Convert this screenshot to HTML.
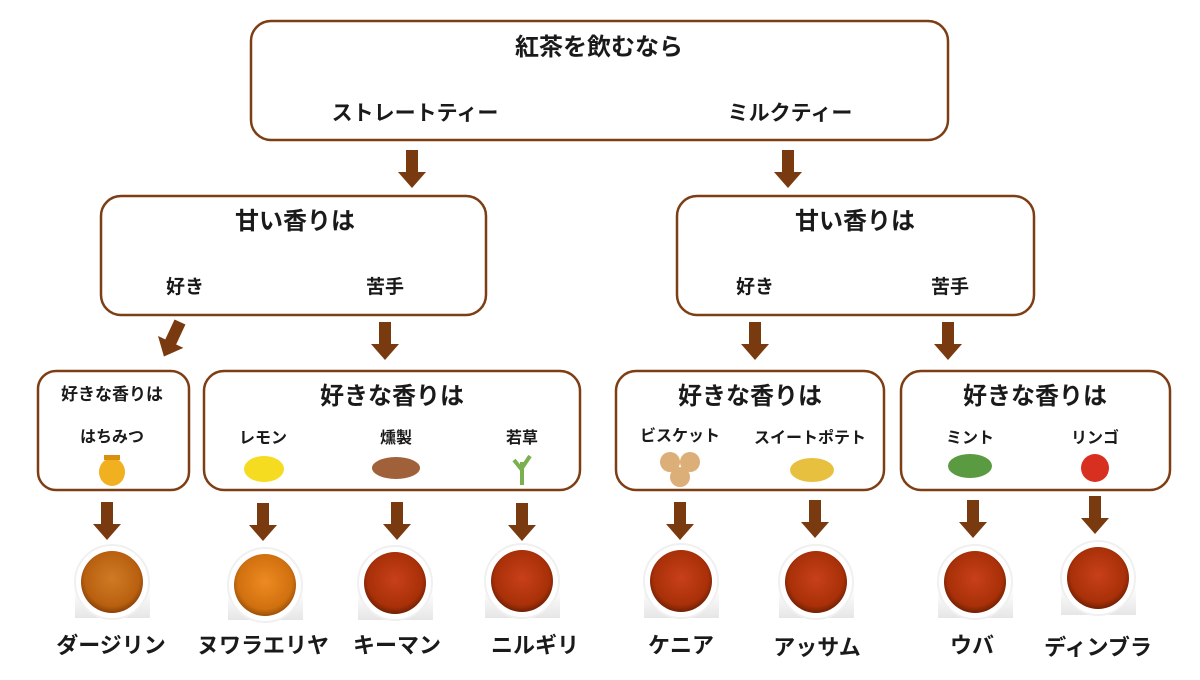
<!DOCTYPE html>
<html><head><meta charset="utf-8"><style>
html,body{margin:0;padding:0;background:#fff;}
svg text{font-family:"Liberation Sans","Noto Sans CJK JP",sans-serif;font-weight:bold;fill:#1a1a1a;text-anchor:middle;}
</style></head><body>
<svg width="1200" height="675" viewBox="0 0 1200 675" xmlns="http://www.w3.org/2000/svg">
<defs>
<g id="ar"><rect x="-6" y="0" width="12" height="24" fill="#7a3a10"/><polygon points="-14,22 14,22 0,38" fill="#7a3a10"/></g>
<radialGradient id="t1" cx="50%" cy="45%" r="55%"><stop offset="0" stop-color="#d07a25"/><stop offset="0.8" stop-color="#b8600f"/><stop offset="1" stop-color="#8a4008"/></radialGradient>
<radialGradient id="t2" cx="50%" cy="45%" r="55%"><stop offset="0" stop-color="#c8401a"/><stop offset="0.8" stop-color="#a83008"/><stop offset="1" stop-color="#702005"/></radialGradient>
<radialGradient id="t3" cx="50%" cy="45%" r="55%"><stop offset="0" stop-color="#ee8a20"/><stop offset="0.8" stop-color="#d0700f"/><stop offset="1" stop-color="#9a5008"/></radialGradient>
<linearGradient id="sh" x1="0" y1="0" x2="0" y2="1"><stop offset="0.5" stop-color="#fff"/><stop offset="1" stop-color="#e6e6e6"/></linearGradient>
</defs>
<g fill="#fff" stroke="#7e3e14" stroke-width="2.5">
<rect x="251" y="21" width="697" height="119" rx="20"/>
<rect x="101" y="196" width="385" height="119" rx="20"/>
<rect x="677" y="196" width="357" height="119" rx="20"/>
<rect x="38" y="371" width="151" height="119" rx="18"/>
<rect x="204" y="371" width="376" height="119" rx="20"/>
<rect x="616" y="371" width="268" height="119" rx="20"/>
<rect x="901" y="371" width="269" height="119" rx="20"/>
</g>
<text x="599" y="55" font-size="24">紅茶を飲むなら</text>
<text x="415" y="120" font-size="21">ストレートティー</text>
<text x="790" y="120" font-size="21">ミルクティー</text>
<text x="295" y="229" font-size="24">甘い香りは</text>
<text x="185" y="293" font-size="19">好き</text>
<text x="385" y="293" font-size="19">苦手</text>
<text x="855" y="229" font-size="24">甘い香りは</text>
<text x="755" y="293" font-size="19">好き</text>
<text x="950" y="293" font-size="19">苦手</text>
<text x="112" y="400" font-size="17">好きな香りは</text>
<text x="112" y="442" font-size="16">はちみつ</text>
<text x="392" y="404" font-size="24">好きな香りは</text>
<text x="263" y="443" font-size="16">レモン</text>
<text x="396" y="443" font-size="16">燻製</text>
<text x="522" y="443" font-size="16">若草</text>
<text x="750" y="404" font-size="24">好きな香りは</text>
<text x="680" y="441" font-size="16">ビスケット</text>
<text x="810" y="443" font-size="16">スイートポテト</text>
<text x="1035" y="404" font-size="24">好きな香りは</text>
<text x="970" y="443" font-size="16">ミント</text>
<text x="1095" y="443" font-size="16">リンゴ</text>
<ellipse cx="112" cy="472" rx="13" ry="14" fill="#f0b020"/><rect x="104" y="455" width="16" height="5" fill="#d89010"/>
<ellipse cx="264" cy="469" rx="20" ry="13" fill="#f5dc20"/>
<ellipse cx="396" cy="468" rx="24" ry="11" fill="#a0603a"/>
<path d="M522 485 L522 462 M522 470 L514 460 M522 468 L530 456" stroke="#7ab050" stroke-width="4"/>
<circle cx="670" cy="462" r="10" fill="#dcae78"/><circle cx="690" cy="462" r="10" fill="#dcae78"/><circle cx="680" cy="477" r="10" fill="#dcae78"/>
<ellipse cx="812" cy="470" rx="22" ry="12" fill="#e8c040"/>
<ellipse cx="970" cy="466" rx="22" ry="12" fill="#5a9a40"/>
<circle cx="1095" cy="468" r="14" fill="#d83020"/>
<use href="#ar" x="412" y="150"/><use href="#ar" x="788" y="150"/>
<g transform="translate(180,322) rotate(25)"><use href="#ar"/></g>
<use href="#ar" x="385" y="322"/><use href="#ar" x="755" y="322"/><use href="#ar" x="948" y="322"/>
<use href="#ar" x="107" y="502"/><use href="#ar" x="263" y="503"/><use href="#ar" x="397" y="502"/><use href="#ar" x="522" y="503"/>
<use href="#ar" x="680" y="502"/><use href="#ar" x="815" y="500"/><use href="#ar" x="973" y="500"/><use href="#ar" x="1095" y="496"/>
<g>
<rect x="75" y="560" width="75" height="58" fill="url(#sh)"/><circle cx="112" cy="582" r="37" fill="#fff" stroke="#f0f0f0" stroke-width="2"/><circle cx="112" cy="582" r="31" fill="url(#t1)"/>
<rect x="228" y="562" width="75" height="58" fill="url(#sh)"/><circle cx="265" cy="585" r="37" fill="#fff" stroke="#f0f0f0" stroke-width="2"/><circle cx="265" cy="585" r="31" fill="url(#t3)"/>
<rect x="358" y="562" width="75" height="58" fill="url(#sh)"/><circle cx="395" cy="583" r="37" fill="#fff" stroke="#f0f0f0" stroke-width="2"/><circle cx="395" cy="583" r="31" fill="url(#t2)"/>
<rect x="485" y="560" width="75" height="58" fill="url(#sh)"/><circle cx="522" cy="581" r="37" fill="#fff" stroke="#f0f0f0" stroke-width="2"/><circle cx="522" cy="581" r="31" fill="url(#t2)"/>
<rect x="644" y="560" width="75" height="58" fill="url(#sh)"/><circle cx="681" cy="581" r="37" fill="#fff" stroke="#f0f0f0" stroke-width="2"/><circle cx="681" cy="581" r="31" fill="url(#t2)"/>
<rect x="779" y="560" width="75" height="58" fill="url(#sh)"/><circle cx="816" cy="582" r="37" fill="#fff" stroke="#f0f0f0" stroke-width="2"/><circle cx="816" cy="582" r="31" fill="url(#t2)"/>
<rect x="938" y="560" width="75" height="58" fill="url(#sh)"/><circle cx="975" cy="582" r="37" fill="#fff" stroke="#f0f0f0" stroke-width="2"/><circle cx="975" cy="582" r="31" fill="url(#t2)"/>
<rect x="1061" y="557" width="75" height="58" fill="url(#sh)"/><circle cx="1098" cy="578" r="37" fill="#fff" stroke="#f0f0f0" stroke-width="2"/><circle cx="1098" cy="578" r="31" fill="url(#t2)"/>
</g>
<g font-size="22">
<text x="111" y="653">ダージリン</text>
<text x="263" y="653">ヌワラエリヤ</text>
<text x="397" y="653">キーマン</text>
<text x="535" y="653">ニルギリ</text>
<text x="681" y="653">ケニア</text>
<text x="817" y="655">アッサム</text>
<text x="972" y="653">ウバ</text>
<text x="1098" y="655">ディンブラ</text>
</g>
</svg>
</body></html>
